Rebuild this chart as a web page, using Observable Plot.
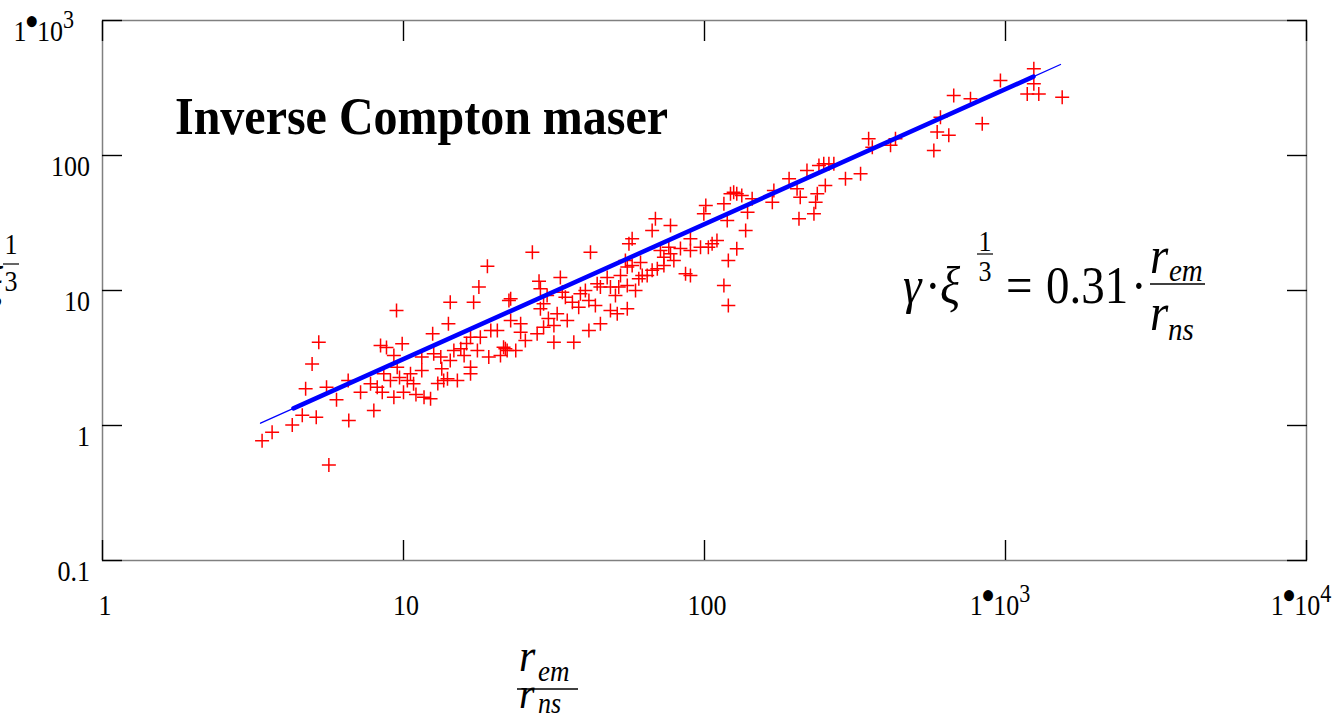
<!DOCTYPE html>
<html><head><meta charset="utf-8">
<script src="https://cdn.jsdelivr.net/npm/d3@7"></script>
<script src="https://cdn.jsdelivr.net/npm/@observablehq/plot@0.6"></script>
<style>
html,body{margin:0;padding:0;background:#fff;}
#chart svg{display:block;}
#chart svg g.anno text{font-family:'Liberation Serif','Times New Roman',serif !important;}
</style></head><body><div id="chart"></div>
<script>
// r_em / r_ns
const ratioX = [
 3.39, 3.66, 4.27, 4.61, 5.13, 6.58, 5.65, 4.73, 5.55, 5.99,
 4.97, 5.23, 6.55, 7.20, 7.97, 7.77, 8.18, 8.39, 8.78, 9.90,
 9.48, 9.29, 9.53, 8.60, 9.05, 8.50, 9.29, 10.0, 10.3, 10.55,
 10.8, 11.5, 11.7, 12.3, 11.5, 12.5, 12.6, 13.3, 13.4, 14.0,
 13.6, 14.1, 14.3, 17.1, 17.8, 19.0, 14.3, 14.7, 15.5, 15.9,
 16.7, 16.7, 17.6, 16.7, 18.0, 19.2, 19.5, 20.5, 21.5, 22.1,
 22.4, 26.8, 41.8, 33.2, 28.2, 22.7, 22.7, 24.5, 24.5, 21.8,
 23.6, 27.8, 29.2, 31.6, 31.6, 36.8, 35.0, 32.4, 28.5, 29.2,
 30.0, 28.5, 33.7, 34.5, 36.4, 38.2, 38.7, 40.2, 41.3, 41.3,
 45.1, 48.7, 51.3, 55.4, 50.6, 44.0, 45.1, 47.5, 48.7, 51.9,
 52.6, 55.4, 57.5, 55.4, 59.0, 60.5, 62.1, 64.5, 67.0, 69.7,
 73.3, 73.3, 77.1, 79.1, 76.1, 71.4, 67.0, 68.7, 77.1, 57.5,
 56.1, 54.6, 86.5, 89.8, 89.8, 89.8, 97.0, 103, 106, 99.5,
 101, 116, 119, 122, 125, 128, 139, 137, 128, 120,
 116, 120, 133,
 1242, 1242, 1181, 1290, 1543, 962, 673, 765, 837, 608,
 593, 648, 578, 351, 361, 415, 431, 330, 294, 252,
 237, 234, 231, 206, 208, 219, 240, 249, 259, 269,
 191, 203, 170, 168, 144,
 9.70, 11.0, 13.0, 15.1, 16.2, 21.0, 25.4, 30.3, 43.4, 61.3, 83.2, 110
];
// gamma * xi^(1/3)
const gammaXi = [
 0.77, 0.89, 1.01, 1.19, 1.15, 1.09, 0.51, 1.87, 1.92, 1.55,
 2.86, 4.14, 2.15, 1.76, 1.29, 2.04, 1.92, 3.91, 3.78, 4.03,
 7.11, 3.30, 2.70, 2.42, 2.15, 1.76, 1.62, 1.76, 2.15, 2.42,
 2.04, 2.55, 1.62, 1.58, 3.21, 4.78, 3.40, 3.21, 2.63, 2.22,
 2.15, 5.66, 8.19, 8.19, 10.6, 15.1, 3.03, 3.59, 3.70, 3.30,
 2.70, 2.42, 3.59, 4.51, 4.51, 3.21, 5.05, 5.05, 3.80, 3.59,
 8.43, 19.2, 19.2, 12.5, 11.7, 8.68, 5.99, 5.66, 4.91, 3.70,
 3.59, 4.78, 5.35, 5.50, 4.14, 4.14, 5.99, 6.72, 7.32, 7.97,
 9.18, 10.3, 9.71, 8.92, 8.19, 7.52, 9.45, 10.0, 8.43, 5.05,
 5.66, 7.11, 6.72, 7.32, 9.18, 11.2, 10.6, 12.5, 10.6, 10.6,
 12.9, 14.9, 15.3, 10.9, 10.0, 12.2, 12.9, 12.9, 14.1, 14.5,
 15.3, 17.6, 18.7, 16.7, 20.9, 19.8, 27.8, 34.0, 30.3, 24.2,
 22.2, 16.7, 13.3, 12.9, 24.2, 19.8, 20.9, 20.9, 22.2, 37.0,
 42.6, 43.9, 33.0, 52.0, 53.5, 52.0, 38.0, 27.8, 20.4, 16.7,
 10.9, 7.74, 50.5,
 439, 340, 286, 286, 270, 359, 278, 263, 172, 192,
 149, 141, 109, 133, 115, 119, 133, 73.2, 67.2, 59.9,
 52.0, 45.1, 37.0, 34.0, 49.1, 77.4, 84.3, 86.8, 86.8, 86.8,
 67.2, 56.7, 55.0, 45.1, 47.8,
 2.27, 1.70, 2.05, 2.15, 4.05, 3.30, 4.26, 6.20, 7.74, 16.1, 20.5, 23.5
];
// fit line gamma*xi^(1/3) = 0.31 r_em/r_ns (end points, thin and thick parts)
const fitThinX = [3.35, 1523];
const fitThinY = [1.04, 472];
const fitThickX = [4.31, 1239];
const fitThickY = [1.34, 384];

const xTickValues = [1, 10, 100, 1000, 10000];
const xTickLabels = ["1", "10", "100", "1•10^3", "1•10^4"];
const yTickValues = [0.1, 1, 10, 100, 1000];
const yTickLabels = ["0.1", "1", "10", "100", "1•10^3"];

const titleText = "Inverse Compton maser";

const FONT = "'Liberation Serif', 'Times New Roman', serif";
const points = ratioX.map((x, i) => ({x, y: gammaXi[i]}));
const thin = fitThinX.map((x, i) => ({x, y: fitThinY[i]}));
const thick = fitThickX.map((x, i) => ({x, y: fitThickY[i]}));

const plusSymbol = {
  draw(ctx, size) {
    const r = Math.sqrt(size / Math.PI);
    ctx.moveTo(-r, 0); ctx.lineTo(r, 0);
    ctx.moveTo(0, -r); ctx.lineTo(0, r);
  }
};

const tickStyle = {tickSize: -20, tickFormat: () => "", label: null, stroke: "#000", strokeWidth: 1.4};

const plot = Plot.plot({
  width: 1336, height: 714,
  marginLeft: 102, marginRight: 30, marginTop: 20, marginBottom: 154,
  x: {type: "log", domain: [1, 10000]},
  y: {type: "log", domain: [0.1, 1000]},
  style: {fontFamily: FONT, background: "white", color: "black"},
  marks: [
    Plot.dot(points, {x: "x", y: "y", symbol: plusSymbol, r: 7, stroke: "#ff0000", strokeWidth: 1.5, fill: "none"}),
    Plot.line(thin, {x: "x", y: "y", stroke: "#0000ff", strokeWidth: 1.3}),
    Plot.line(thick, {x: "x", y: "y", stroke: "#0000ff", strokeWidth: 4.5}),
    Plot.frame({stroke: "#808080", strokeWidth: 1.5}),
    Plot.axisX(xTickValues, {anchor: "bottom", ...tickStyle}),
    Plot.axisX(xTickValues, {anchor: "top", ...tickStyle}),
    Plot.axisY(yTickValues, {anchor: "left", ...tickStyle}),
    Plot.axisY(yTickValues, {anchor: "right", ...tickStyle})
  ]
});
document.getElementById("chart").appendChild(plot);

const sx = plot.scale("x"), sy = plot.scale("y");
const svg = d3.select(plot);
const g = svg.append("g").attr("class", "anno").attr("font-family", FONT).attr("fill", "black")
  .attr("text-anchor", "start").attr("font-weight", "normal");

// text helper: stretched vertically like the original rendering
function txt(parent, x, y, str, {size = 24, anchor = "start", italic = false, bold = false, stretch = 1.12} = {}) {
  const t = parent.append("text")
    .attr("transform", `translate(${x},${y}) scale(1,${stretch})`)
    .attr("text-anchor", anchor)
    .attr("font-size", size)
    .attr("font-style", italic ? "italic" : "normal")
    .attr("font-weight", bold ? "bold" : "normal");
  if (str != null) t.text(str);
  return t;
}
function hline(parent, x1, x2, y, w = 1.4) {
  parent.append("line").attr("x1", x1).attr("x2", x2).attr("y1", y).attr("y2", y)
    .attr("stroke", "black").attr("stroke-width", w);
}

function writeLabel(t, label, size) {
  const m = label.match(/^(.*)•(.*)\^(.*)$/);
  if (!m) { t.text(label); return; }
  t.append("tspan").text(m[1]);
  t.append("tspan").attr("font-size", size * 1.6).attr("dy", -4).attr("dx", -2).text("•");
  t.append("tspan").attr("dy", 4).attr("dx", -2).text(m[2]);
  t.append("tspan").attr("font-size", size * 0.85).attr("dy", -12).text(m[3]);
}

const tickFont = 26;
const bottom = sy.apply(0.1);
xTickValues.forEach((v, i) => {
  const isExp = xTickLabels[i].includes("^");
  const t = txt(g, sx.apply(v) + (isExp ? -5 : 3), bottom + 55, null, {size: tickFont, anchor: "middle", stretch: 1.12});
  writeLabel(t, xTickLabels[i], tickFont);
});
yTickValues.forEach((v, i) => {
  const isExp = yTickLabels[i].includes("^");
  const t = txt(g, isExp ? 74 : 90, sy.apply(v) + 21, null, {size: tickFont, anchor: "end", stretch: 1.12});
  writeLabel(t, yTickLabels[i], tickFont);
});

// title
txt(g, 175, 134, titleText, {size: 48, bold: true, stretch: 1.1});

// equation
const eq = g.append("g");
txt(eq, 903, 303, "γ", {size: 47, italic: true});
txt(eq, 925, 303, "·", {size: 47});
txt(eq, 940, 303, "ξ", {size: 47, italic: true});
txt(eq, 985, 251, "1", {size: 26, anchor: "middle"});
hline(eq, 977, 993, 254, 1.2);
txt(eq, 985, 281, "3", {size: 26, anchor: "middle"});
txt(eq, 1006, 303, "=", {size: 47});
txt(eq, 1046, 303, "0.31", {size: 47});
txt(eq, 1131, 303, "·", {size: 47});
txt(eq, 1150, 273, "r", {size: 47, italic: true});
txt(eq, 1169, 281, "em", {size: 29, italic: true});
hline(eq, 1150, 1205, 284, 1.5);
txt(eq, 1150, 330, "r", {size: 47, italic: true});
txt(eq, 1168, 340, "ns", {size: 29, italic: true});

// x axis label
const xl = g.append("g");
txt(xl, 519, 671, "r", {size: 42, italic: true});
txt(xl, 538, 681, "em", {size: 27, italic: true});
hline(xl, 517, 578, 689, 1.5);
txt(xl, 519, 708, "r", {size: 40, italic: true});
txt(xl, 538, 713, "ns", {size: 26, italic: true});

// y axis label (mostly outside the picture, as in the original)
const yl = g.append("g");
txt(yl, 3, 300, "γ·ξ", {size: 44, italic: true, anchor: "end"});
txt(yl, 11, 254, "1", {size: 26, anchor: "middle"});
hline(yl, 3, 19, 264, 1.2);
txt(yl, 11, 291, "3", {size: 26, anchor: "middle"});
</script>
</body></html>
